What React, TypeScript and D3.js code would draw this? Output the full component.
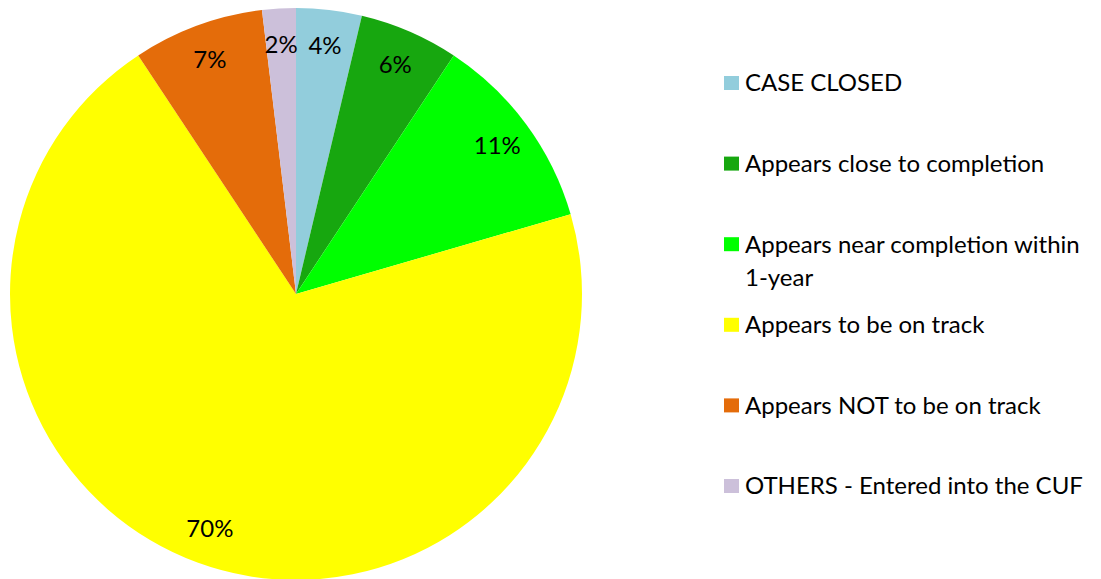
import React from "react";
import * as d3 from "d3";

const categories = [
  "CASE CLOSED",
  "Appears close to completion",
  "Appears near completion within 1-year",
  "Appears to be on track",
  "Appears NOT to be on track",
  "OTHERS - Entered into the CUF",
];
const values = [3.7, 5.6, 11.2, 70.2, 7.4, 1.9];
const colors = ["#92CDDC", "#17A70F", "#00FF00", "#FFFF00", "#E46C0A", "#CCC0DA"];

const W = 1101;
const H = 579;
const FONT = "Lato, 'Open Sans', sans-serif";

function wrap(text: string, maxW: number, font: string): string[] {
  const c = document.createElement("canvas").getContext("2d")!;
  c.font = font;
  const words = text.split(" ");
  const lines: string[] = [];
  let cur = "";
  for (const w of words) {
    const t = cur ? cur + " " + w : w;
    if (c.measureText(t).width > maxW && cur) {
      lines.push(cur);
      cur = w;
    } else cur = t;
  }
  if (cur) lines.push(cur);
  return lines;
}

export default function App() {
  const cx = 296;
  const cy = 294;
  const r = 286;
  const total = d3.sum(values);
  const pie = d3.pie<number>().sort(null).value((d) => d);
  const arcs = pie(values);
  const arc = d3.arc<d3.PieArcDatum<number>>().innerRadius(0).outerRadius(r);
  const labelArc = d3.arc<d3.PieArcDatum<number>>().innerRadius(500).outerRadius(0);
  const legendY = d3.scaleLinear().domain([0, 1]).range([83, 163.6]);
  const fs = 24;
  return (
    <svg width={W} height={H} style={{ position: "absolute", left: 0, top: 0, background: "#fff" }}>
      <g transform={`translate(${cx},${cy})`}>
        {arcs.map((a, i) => (
          <path key={i} d={arc(a)!} fill={colors[i]} />
        ))}
        {arcs.map((a, i) => {
          const [x, y] = labelArc(a) ? labelArc.centroid(a) : [0, 0];
          return (
            <text key={"l" + i} x={x} y={y} dy="0.35em" textAnchor="middle" fontFamily={FONT} fontSize={fs} fill="#000">
              {d3.format(".0%")(a.value / total)}
            </text>
          );
        })}
      </g>
      {categories.map((c, i) => {
        const lines = wrap(c, 350, `${fs}px Lato`);
        const y = legendY(i);
        return (
          <g key={"g" + i}>
            <rect x={724} y={y - 7} width={15} height={14} fill={colors[i]} />
            <text x={745} y={y} dy="0.35em" fontFamily={FONT} fontSize={fs} fill="#000">
              {lines.map((l, j) => (
                <tspan key={j} x={745} dy={j === 0 ? "0.35em" : "1.4em"}>
                  {l}
                </tspan>
              ))}
            </text>
          </g>
        );
      })}
    </svg>
  );
}
